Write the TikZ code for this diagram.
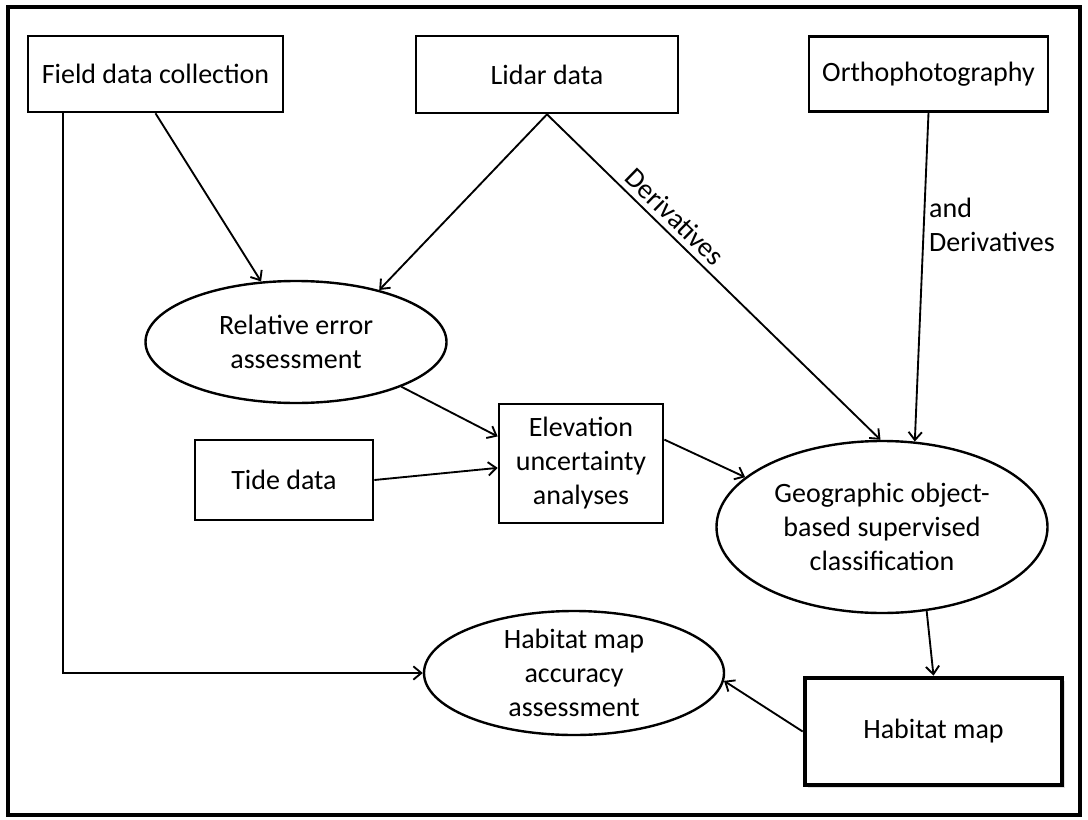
\documentclass[tikz,border=0pt]{standalone}
\usepackage{fontspec}
\setmainfont{Carlito}
\usetikzlibrary{arrows.meta,shapes.geometric,shadows}
\tikzset{
      databox/.style={
        draw=black,
        line width=2pt,
        fill=white,
        inner sep=0pt,
        align=center,
        font=\fontsize{21}{25.5}\selectfont
      },
      stepellipse/.style={
        ellipse,
        draw=black,
        line width=1.8pt,
        fill=white,
        inner sep=0pt,
        align=center,
        font=\fontsize{21}{25.5}\selectfont
      },
      flowarrow/.style={
        -{Straight Barb[length=6pt,width=10pt]},
        line width=1.4pt
      }
    }

\begin{document}
\begin{tikzpicture}[x=0.75pt,y=-0.75pt]
    \useasboundingbox (0,0) rectangle (1088,820);
    \draw[line width=3pt] (8,7) rectangle (1080,815);
    \node[databox, minimum width=191.25pt, minimum height=57pt] (field) at (155.5,74) {Field data collection};
    \node[databox, minimum width=196.5pt, minimum height=57.75pt] (lidar) at (547,74.5) {Lidar data};
    \node[databox, minimum width=179.25pt, minimum height=56pt] (ortho) at (928.5,74) {Orthophotography};
    \node[stepellipse, minimum width=225.75pt, minimum height=91.5pt] (relerr) at (296,342) {Relative error\\assessment};
    \node[databox, minimum width=133.5pt, minimum height=60pt] (tide) at (284,480) {Tide data};
    \node[databox, minimum width=123pt, minimum height=89.25pt] (elev) at (581,463.5) {Elevation\\uncertainty\\analyses};
    \node[stepellipse, minimum width=248.25pt, minimum height=129pt] (geo) at (882,527) {Geographic object-\\based supervised\\classification};
    \node[stepellipse, minimum width=225pt, minimum height=93pt] (accuracy) at (574,673) {Habitat map\\accuracy\\assessment};
    \node[databox, line width=3.5pt, minimum width=192.75pt, minimum height=80.25pt,
          drop shadow={shadow xshift=2pt, shadow yshift=-2pt, opacity=0.25}] (habmap) at (933.5,731.5) {Habitat map};
    % connectors
    \draw[flowarrow] (field.-157) |- (accuracy.west);
    \draw[flowarrow] (field.south) -- (relerr.120);
    \draw[flowarrow] (lidar.south) -- (relerr.32);
    \draw[flowarrow] (lidar.south) -- node[sloped, above=1pt, pos=0.35, font=\fontsize{21}{25.5}\selectfont] {Derivatives} (geo.91);
    \draw[flowarrow] (ortho.south) -- node[right, pos=0.34, align=left, font=\fontsize{21}{25.5}\selectfont] {and\\Derivatives} (geo.69);
    \draw[flowarrow] (relerr.-23) -- (elev.162);
    \draw[flowarrow] (tide.east) -- (elev.183);
    \draw[flowarrow] (elev.16) -- (geo.160);
    \draw[flowarrow] (geo.-62) -- (habmap.north);
    \draw[flowarrow] (habmap.west) -- (accuracy.-3);
\end{tikzpicture}
\end{document}
